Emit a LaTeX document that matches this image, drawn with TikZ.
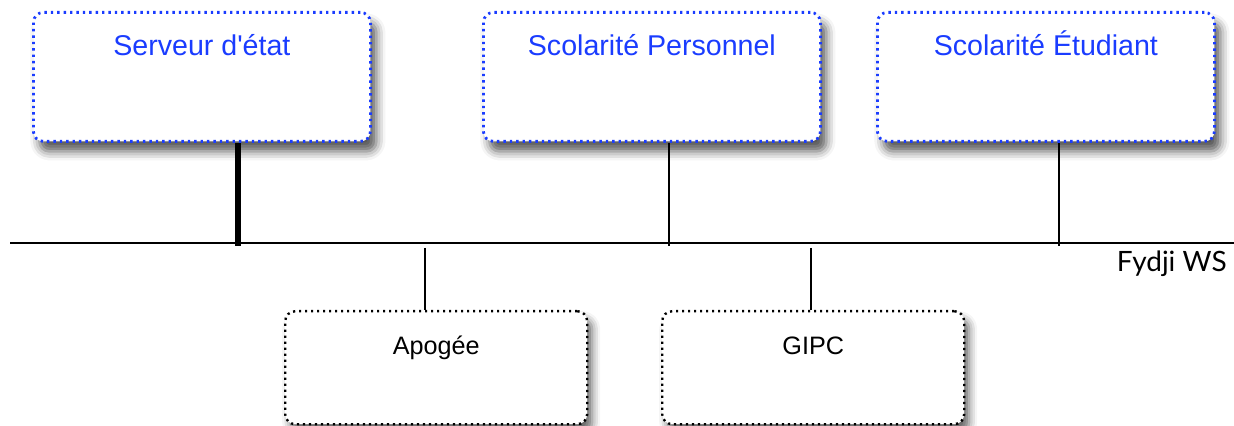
\documentclass[tikz,border=0pt]{standalone}
\usepackage{fontspec}
\setmainfont{Liberation Sans}
\newfontfamily\busfont{Lato}
\usepackage{tikz}
\usetikzlibrary{shapes.geometric, arrows, shadows, shadows.blur, positioning}
\definecolor{srvblue}{RGB}{26,60,255}
\tikzstyle{service} = [rectangle, rounded corners=5pt, draw=srvblue, text=srvblue, fill=white, line width=1.4pt, dash pattern=on 1.2pt off 2pt, minimum width=168.5pt, inner sep=0pt, text height=21.5pt, text depth=43pt, font=\fontsize{14.3}{16}\selectfont, blur shadow={shadow xshift=3pt, shadow yshift=-5pt, shadow blur radius=4.5pt, shadow opacity=65}]
\tikzstyle{backend} = [rectangle, rounded corners=5pt, draw=black, fill=white, line width=1.2pt, dash pattern=on 1.1pt off 1.9pt, minimum width=151pt, inner sep=0pt, text height=21.5pt, text depth=35pt, font=\fontsize{12.6}{14}\selectfont, blur shadow={shadow xshift=2.5pt, shadow yshift=-4pt, shadow blur radius=4pt, shadow opacity=60}]
\tikzstyle{link} = [line width=1.2pt]
\tikzstyle{biglink} = [line width=2.6pt]
\begin{document}
\begin{tikzpicture}[x=0.5pt, y=-0.5pt]
    \useasboundingbox (0,0) rectangle (1234,426);
    % services au-dessus du bus
    \node (etat) [service, anchor=north west] at (32,11) {Serveur d\textquotesingle état};
    \node (perso) [service, anchor=north west] at (482,11) {Scolarité Personnel};
    \node (etud) [service, anchor=north west] at (876,11) {Scolarité Étudiant};
    % applications en dessous
    \node (apogee) [backend, anchor=north west] at (284,310) {Apogée};
    \node (gipc) [backend, anchor=north west] at (661,310) {GIPC};
    % bus
    \coordinate (busL) at (10,243);
    \coordinate (busR) at (1234,243);
    \draw [line width=1.3pt] (busL) -- (busR);
    \node (ws) [anchor=base east, inner sep=0pt, font=\busfont\fontsize{14}{16}\selectfont] at (1227,272) {Fydji WS};
    % branchements
    \coordinate (b1) at (238,246);
    \coordinate (b2) at (669,246);
    \coordinate (b3) at (1059,246);
    \coordinate (b4) at (425,248);
    \coordinate (b5) at (811,248);
    \draw [biglink] (b1) -- (b1 |- etat.south);
    \draw [link] (b2) -- (b2 |- perso.south);
    \draw [link] (b3) -- (b3 |- etud.south);
    \draw [link] (b4) -- (b4 |- apogee.north);
    \draw [link] (b5) -- (b5 |- gipc.north);
\end{tikzpicture}
\end{document}
